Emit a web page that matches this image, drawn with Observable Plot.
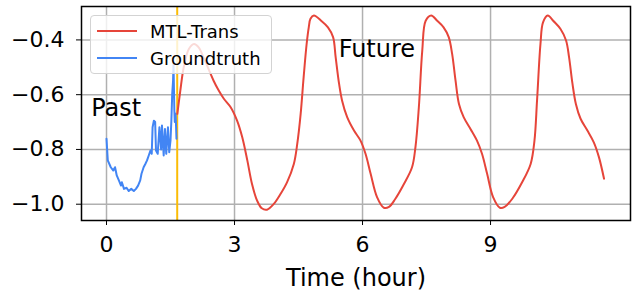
<!DOCTYPE html>
<html>
<head>
<meta charset="utf-8">
<script src="https://cdn.jsdelivr.net/npm/d3@7"></script>
<script src="https://cdn.jsdelivr.net/npm/@observablehq/plot@0.6"></script>
<style>
  html, body { margin: 0; padding: 0; background: #fff; }
  #wrap { position: relative; width: 636px; height: 293px; font-family: "DejaVu Sans", sans-serif; }
  #legend { position: absolute; left: 90px; top: 15px; width: 180px; height: 57px;
    background: rgba(255,255,255,0.8); border: 1px solid #d3d3d3; border-radius: 4px; }
  .row { position: absolute; left: 0; height: 20px; display: flex; align-items: center; }
  .sw { width: 40px; height: 2px; margin-left: 6px; margin-right: 13px; }
  .lab { font-size: 18px; color: #000; white-space: nowrap; }
</style>
</head>
<body>
<div id="wrap"></div>
<script>
// Groundtruth (past) series
const gtTime = [0, 0.03, 0.1, 0.16, 0.2, 0.24, 0.29, 0.34, 0.36, 0.41, 0.47, 0.52, 0.58, 0.64, 0.69, 0.74, 0.79, 0.82, 0.87, 0.91, 0.95, 0.99, 1.03, 1.06, 1.08, 1.11, 1.14, 1.16, 1.2, 1.24, 1.28, 1.3, 1.34, 1.37, 1.4, 1.44, 1.47, 1.5, 1.52, 1.54, 1.56, 1.57, 1.59, 1.6, 1.62, 1.64];
const gtValue = [-0.761, -0.84, -0.865, -0.877, -0.865, -0.895, -0.913, -0.932, -0.92, -0.944, -0.94, -0.952, -0.944, -0.952, -0.944, -0.932, -0.913, -0.889, -0.865, -0.853, -0.84, -0.822, -0.804, -0.816, -0.719, -0.695, -0.70, -0.804, -0.816, -0.719, -0.80, -0.713, -0.822, -0.725, -0.816, -0.719, -0.81, -0.767, -0.695, -0.597, -0.549, -0.49, -0.658, -0.70, -0.67, -0.761];

// MTL-Trans (future) prediction series
const predTime = [1.66, 1.73, 1.81, 1.93, 2.05, 2.16, 2.27, 2.39, 2.51, 2.63, 2.75, 2.91, 3.06, 3.18, 3.3, 3.41, 3.53, 3.64, 3.76, 3.92, 4.08, 4.23, 4.39, 4.47, 4.55, 4.62, 4.69, 4.74, 4.78, 4.86,
  5.03, 5.19, 5.31, 5.37, 5.45, 5.52, 5.64, 5.8, 5.95, 6.07, 6.19, 6.34, 6.5, 6.62, 6.77, 6.97, 7.16, 7.24, 7.32, 7.4, 7.48, 7.61,
  7.75, 7.9, 8.02, 8.1, 8.18, 8.26, 8.37, 8.53, 8.68, 8.8, 8.92, 9.06, 9.22, 9.33, 9.51, 9.74, 9.94, 10.03, 10.09, 10.17, 10.23, 10.34,
  10.48, 10.64, 10.77, 10.84, 10.92, 11.0, 11.11, 11.27, 11.42, 11.54, 11.66];
const predValue = [-0.67, -0.585, -0.5, -0.433, -0.415, -0.427, -0.463, -0.506, -0.549, -0.585, -0.615, -0.646, -0.695, -0.755, -0.84, -0.926, -0.987, -1.015, -1.02, -0.999, -0.962, -0.92, -0.853, -0.78, -0.67, -0.536, -0.415, -0.354, -0.323, -0.311,
  -0.33, -0.354, -0.39, -0.463, -0.56, -0.621, -0.682, -0.731, -0.767, -0.816, -0.889, -0.974, -1.013, -1.01, -0.98, -0.926, -0.865, -0.792, -0.646, -0.439, -0.33, -0.311,
  -0.33, -0.354, -0.39, -0.451, -0.549, -0.634, -0.682, -0.725, -0.767, -0.816, -0.889, -0.974, -1.013, -1.01, -0.98, -0.92, -0.853, -0.767, -0.621, -0.415, -0.336, -0.311,
  -0.332, -0.36, -0.402, -0.463, -0.56, -0.634, -0.688, -0.731, -0.774, -0.828, -0.907];

const splitTime = [1.657];
const xTicks = [0, 3, 6, 9];
const yTicks = [-1.0, -0.8, -0.6, -0.4];
const noteText = ["Past", "Future"];
const noteTime = [-0.36, 5.44];
const noteValue = [-0.648, -0.433];
const seriesNames = ["MTL-Trans", "Groundtruth"];
const seriesColors = ["#E6453A", "#4285F4"];
const xLabel = "Time (hour)";

const gt = gtTime.map((t, i) => ({t, v: gtValue[i]}));
const pred = predTime.map((t, i) => ({t, v: predValue[i]}));
const notes = noteText.map((s, i) => ({s, t: noteTime[i], v: noteValue[i]}));
const minus = d => (d < 0 ? "\u2212" : "") + Math.abs(d).toFixed(1);

const chart = Plot.plot({
  width: 636,
  height: 293,
  marginLeft: 81,
  marginRight: 6,
  marginTop: 6,
  marginBottom: 73,
  style: {fontFamily: "DejaVu Sans, sans-serif", background: "transparent"},
  x: {domain: [-0.586, 12.28]},
  y: {domain: [-1.0595, -0.278]},
  marks: [
    Plot.gridX(xTicks, {stroke: "#b0b0b0", strokeOpacity: 1, strokeWidth: 1.5}),
    Plot.gridY(yTicks, {stroke: "#b0b0b0", strokeOpacity: 1, strokeWidth: 1.5}),
    Plot.ruleX(splitTime, {stroke: "#FBBC05", strokeWidth: 2}),
    Plot.line(gt, {x: "t", y: "v", stroke: seriesColors[1], strokeWidth: 2}),
    Plot.line(pred, {x: "t", y: "v", stroke: seriesColors[0], strokeWidth: 2, curve: "catmull-rom"}),
    Plot.text(notes, {x: "t", y: "v", text: "s", textAnchor: "start", lineAnchor: "middle", fontSize: 24, fill: "black"}),
    Plot.frame({stroke: "black", strokeWidth: 1.5}),
    Plot.axisX({ticks: xTicks, tickFormat: d => String(d), tickSize: 5, tickPadding: 11, fontSize: 22, label: null, stroke: "black"}),
    Plot.axisY({ticks: yTicks, tickFormat: minus, tickSize: 5, tickPadding: 12, fontSize: 22, label: null, stroke: "black"}),
    Plot.text([xLabel], {frameAnchor: "bottom", lineAnchor: "top", dy: 48, fontSize: 24, fill: "black"})
  ]
});

const wrap = document.getElementById("wrap");
wrap.appendChild(chart);
const legend = document.createElement("div");
legend.id = "legend";
seriesNames.forEach((name, i) => {
  const row = document.createElement("div");
  row.className = "row";
  row.style.top = (i === 0 ? 5 : 32) + "px";
  const sw = document.createElement("div");
  sw.className = "sw";
  sw.style.background = seriesColors[i];
  const lab = document.createElement("div");
  lab.className = "lab";
  lab.textContent = name;
  row.appendChild(sw);
  row.appendChild(lab);
  legend.appendChild(row);
});
wrap.appendChild(legend);
</script>
</body>
</html>
